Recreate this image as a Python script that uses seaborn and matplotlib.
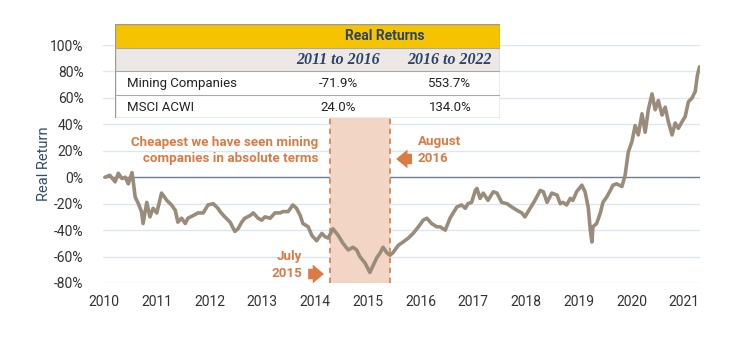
import matplotlib
matplotlib.use("Agg")
import matplotlib.pyplot as plt
from matplotlib.patches import Rectangle
import seaborn as sns
import pandas as pd

# Real return of mining companies (decimal year, % real return)
years = [
    2010.02, 2010.11, 2010.21, 2010.27, 2010.34, 2010.40, 2010.46, 2010.53, 2010.55, 2010.59,
    2010.64, 2010.71, 2010.74, 2010.81, 2010.87, 2010.93, 2011.00, 2011.09, 2011.19, 2011.28,
    2011.35, 2011.40, 2011.47, 2011.54, 2011.59, 2011.69, 2011.78, 2011.88, 2011.97, 2012.07,
    2012.16, 2012.20, 2012.29, 2012.39, 2012.48, 2012.54, 2012.61, 2012.67, 2012.77, 2012.83,
    2012.92, 2012.99, 2013.05, 2013.15, 2013.24, 2013.34, 2013.39, 2013.49, 2013.58, 2013.65,
    2013.72, 2013.77, 2013.87, 2013.94, 2014.03, 2014.13, 2014.19, 2014.25, 2014.34, 2014.44,
    2014.53, 2014.63, 2014.72, 2014.79, 2014.85, 2014.95, 2015.04, 2015.10, 2015.17, 2015.23,
    2015.29, 2015.36, 2015.42, 2015.48, 2015.58, 2015.67, 2015.77, 2015.86, 2015.93, 2015.99,
    2016.05, 2016.12, 2016.21, 2016.31, 2016.37, 2016.47, 2016.56, 2016.62, 2016.69, 2016.78,
    2016.85, 2016.90, 2016.97, 2017.04, 2017.07, 2017.13, 2017.19, 2017.28, 2017.38, 2017.45,
    2017.54, 2017.64, 2017.73, 2017.83, 2017.92, 2017.98, 2018.08, 2018.17, 2018.27, 2018.33,
    2018.40, 2018.49, 2018.59, 2018.65, 2018.70, 2018.77, 2018.84, 2018.89, 2018.96, 2019.06,
    2019.12, 2019.18, 2019.22, 2019.25, 2019.27, 2019.34, 2019.41, 2019.46, 2019.53, 2019.60,
    2019.65, 2019.72, 2019.82, 2019.88, 2019.94, 2020.01, 2020.07, 2020.13, 2020.20, 2020.26,
    2020.32, 2020.39, 2020.45, 2020.51, 2020.58, 2020.64, 2020.70, 2020.77, 2020.83, 2020.89,
    2020.96, 2021.02, 2021.08, 2021.15, 2021.21, 2021.25, 2021.29,
]
real_return = [
    0.0, 1.5, -3.5, 3.0, -1.0, 0.0, -5.0, 3.5, -2.0, -15.0,
    -19.0, -26.0, -35.0, -19.0, -30.0, -23.5, -27.0, -12.0, -17.5, -21.0,
    -25.0, -34.0, -31.0, -35.0, -31.0, -29.0, -27.0, -27.0, -21.0, -20.0,
    -23.5, -26.0, -30.0, -34.0, -41.0, -39.0, -34.0, -31.0, -29.0, -27.0,
    -31.0, -32.5, -30.0, -31.0, -27.0, -27.0, -26.0, -26.0, -21.0, -23.5,
    -29.0, -35.0, -37.5, -44.0, -48.0, -42.5, -45.0, -46.0, -39.0, -44.0,
    -50.0, -55.0, -53.0, -55.0, -60.0, -65.0, -72.0, -67.0, -61.0, -57.5,
    -53.0, -57.0, -59.0, -57.0, -51.5, -49.0, -46.0, -42.5, -39.0, -36.0,
    -32.5, -31.0, -35.0, -37.5, -37.5, -40.0, -31.0, -27.0, -22.5, -21.0,
    -23.5, -20.0, -19.0, -10.0, -8.5, -16.0, -12.0, -17.5, -11.0, -12.0,
    -19.0, -20.0, -22.5, -25.0, -27.0, -30.0, -23.5, -17.5, -10.0, -11.0,
    -19.0, -12.0, -13.5, -20.0, -19.0, -21.0, -16.0, -17.5, -11.0, -6.0,
    -11.0, -22.5, -40.0, -49.0, -37.5, -35.0, -27.0, -19.0, -15.0, -10.0,
    -6.0, -5.0, -7.0, 1.5, 19.0, 27.0, 39.0, 32.0, 48.0, 34.0,
    51.0, 63.0, 51.0, 58.0, 47.0, 53.0, 42.0, 32.0, 41.0, 37.0,
    42.0, 46.0, 57.0, 60.0, 65.0, 77.0, 83.5,
]

x_ticks = list(range(2010, 2022))
y_ticks = list(range(-80, 101, 20))

# Summary table
table_title = "Real Returns"
period_labels = ["2011 to 2016", "2016 to 2022"]
row_labels = ["Mining Companies", "MSCI ACWI"]
mining_returns = ["-71.9%", "553.7%"]
acwi_returns = ["24.0%", "134.0%"]

# Highlighted trough window
window_start, window_end = 2014.29, 2015.42

sns.set_style("white")
plt.rcParams["font.family"] = ["Roboto", "DejaVu Sans"]

W, H = 754, 340
fig = plt.figure(figsize=(W / 100, H / 100), dpi=100)
ax = fig.add_axes([103 / W, 1 - 283 / H, 597 / W, 238 / H])

df = pd.DataFrame({"year": years, "real_return": real_return})

ax.set_xlim(2009.98, 2021.30)
ax.set_ylim(-80, 100)

for yv in y_ticks:
    if yv == 0:
        ax.axhline(0, color="#6E7C8E", lw=1.0, zorder=1)
    else:
        ax.axhline(yv, color="#DCE6F1", lw=1.0, zorder=0)

orange = "#DB7A44"
ax.fill_between([window_start, window_end], -80, 44.8, color="#F3D5C5", lw=0, zorder=1)
for xv in (window_start, window_end):
    ax.plot([xv, xv], [-80, 44.8], color="#E0834E", lw=1.3, ls=(0, (3, 2.5)), zorder=2)

sns.lineplot(data=df, x="year", y="real_return", ax=ax, color="#9A8C7A",
             lw=2.6, zorder=3, legend=False)

ax.set_xticks(x_ticks)
ax.set_xticklabels([str(t) for t in x_ticks])
ax.set_yticks(y_ticks)
ax.set_yticklabels([f"{t}%" for t in y_ticks])
ax.tick_params(axis="both", length=0, labelsize=10, labelcolor="#333333")
ax.tick_params(axis="x", pad=9)
ax.tick_params(axis="y", pad=14)
ax.set_xlabel("")
ax.set_ylabel("Real Return", color="#2F4B6E", fontsize=10.5, labelpad=-1)
for s in ax.spines.values():
    s.set_visible(False)

# Annotations
ann = dict(color=orange, fontsize=9.6, fontweight="bold", linespacing=1.35)
ax.text(2014.06, 20.2, "Cheapest we have seen mining\ncompanies in absolute terms",
        ha="right", va="center", **ann)
ax.text(2015.95, 20.4, "August\n2016", ha="left", va="center", **ann)
ax.text(2013.75, -66.4, "July\n2015", ha="right", va="center", multialignment="right", **ann)

arrow = dict(arrowstyle="simple,head_width=0.75,head_length=0.45,tail_width=0.42",
             color=orange, lw=0, mutation_scale=18, shrinkA=0, shrinkB=0)
ax.annotate("", xy=(2015.54, 13.8), xytext=(2015.84, 13.8), arrowprops=arrow)
ax.annotate("", xy=(2014.17, -73.2), xytext=(2013.87, -73.2), arrowprops=arrow)

# Summary table drawn on its own axes
tab = fig.add_axes([115 / W, 1 - 118 / H, 385 / W, 94 / H])
tab.set_xlim(0, 1)
tab.set_ylim(0, 1)
tab.axis("off")
tab.add_patch(Rectangle((0, 0.745), 1, 0.255, facecolor="#F5C300", edgecolor="none"))
tab.add_patch(Rectangle((0, 0.5), 1, 0.245, facecolor="#ECE8E5", edgecolor="none"))
tab.add_patch(Rectangle((0, 0.0), 1, 0.5, facecolor="white", edgecolor="none"))
for yv in (0.745, 0.5, 0.245):
    tab.plot([0, 1], [yv, yv], color="#A8A8A8", lw=0.8)
tab.add_patch(Rectangle((0, 0), 1, 1, facecolor="none", edgecolor="#9A9A9A", lw=1.0))

navy = "#2B4468"
tab.text(0.701, 0.872, table_title, ha="center", va="center", color=navy,
         fontsize=10, fontweight="bold")
for xc, lab in zip((0.579, 0.870), period_labels):
    tab.text(xc, 0.617, lab, ha="center", va="center", color=navy, fontsize=11.5,
             fontweight="bold", style="italic", family=["Liberation Serif", "DejaVu Serif"])
for yc, lab, vals in zip((0.372, 0.117), row_labels, (mining_returns, acwi_returns)):
    tab.text(0.031, yc, lab, ha="left", va="center", color="#222222", fontsize=9.5)
    for xc, v in zip((0.579, 0.870), vals):
        tab.text(xc, yc, v, ha="center", va="center", color="#222222", fontsize=9.5)

fig.savefig("out.png", dpi=100, facecolor="white")
